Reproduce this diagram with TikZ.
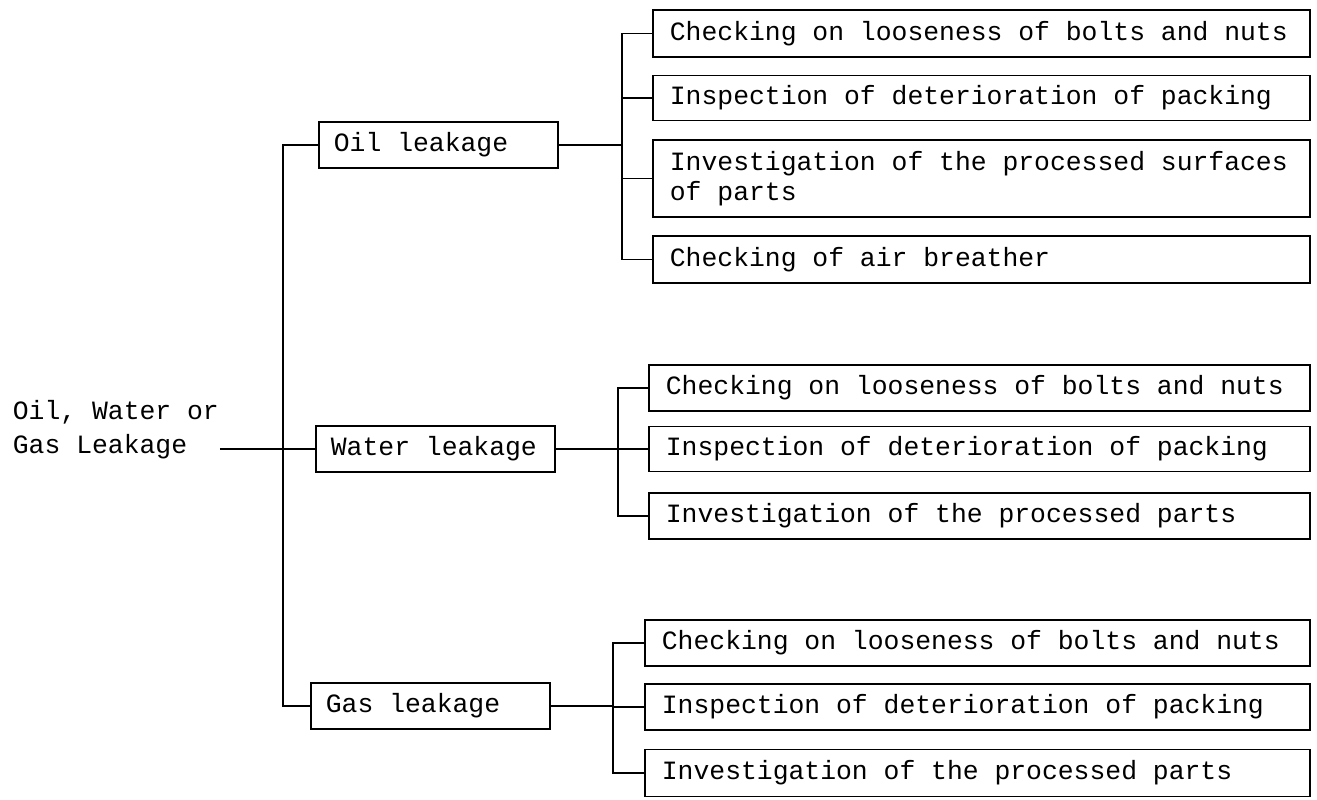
\documentclass[tikz,border=0pt]{standalone}
\usepackage{fontspec}
\setmonofont{Liberation Mono}
\begin{document}
\begin{tikzpicture}[x=1pt, y=1pt, line width=1.8pt,
  every node/.style={font=\ttfamily\fontsize{26.4}{30}\selectfont},
  box/.style={draw, rectangle, anchor=west, align=flush left, inner ysep=0pt},
  catbox/.style={box, inner xsep=15pt, text width=209pt, minimum height=46pt},
  leafbox/.style={box, inner xsep=17pt, text width=#1, minimum height=46pt},
]
\useasboundingbox (0,0) rectangle (1317,-800);

% root label
\node[anchor=west, align=flush left, inner sep=0pt,
      font=\ttfamily\fontsize{26.4}{34}\selectfont] (root) at (12,-430)
  {Oil, Water or\\Gas Leakage};

% leakage categories
\node[catbox] (oil)   at (318,-145) {Oil leakage};
\node[catbox] (water) at (315,-449) {Water leakage};
\node[catbox] (gas)   at (310,-706) {Gas leakage};

% oil leakage checks
\node[leafbox=623pt, minimum height=47pt] (o1) at (652,-33.5) {Checking on looseness of bolts and nuts};
\node[leafbox=623pt, minimum height=45pt] (o2) at (652,-98)   {Inspection of deterioration of packing};
\node[leafbox=623pt, minimum height=77pt] (o3) at (652,-178.5){Investigation of the processed surfaces\\of parts};
\node[leafbox=623pt, minimum height=47pt] (o4) at (652,-259.5){Checking of air breather};

% water leakage checks
\node[leafbox=627pt] (w1) at (648,-388) {Checking on looseness of bolts and nuts};
\node[leafbox=627pt, minimum height=45pt] (w2) at (648,-449) {Inspection of deterioration of packing};
\node[leafbox=627pt] (w3) at (648,-516) {Investigation of the processed parts};

% gas leakage checks
\node[leafbox=631pt] (g1) at (644,-643) {Checking on looseness of bolts and nuts};
\node[leafbox=631pt] (g2) at (644,-707) {Inspection of deterioration of packing};
\node[leafbox=631pt, minimum height=47pt] (g3) at (644,-773) {Investigation of the processed parts};

% trunk lines
\coordinate (trunk) at (283,0);
\coordinate (so) at (622,0);
\coordinate (sw) at (618,0);
\coordinate (sg) at (613,0);

% root to categories
\draw (root.east |- water.west) -- (water.west);
\draw (oil.west) -- (oil.west -| trunk) -- (gas.west -| trunk) -- (gas.west);

% oil branch
\draw (oil.east) -- (oil.east -| so);
\draw (o1.west) -- (o1.west -| so) -- (o4.west -| so) -- (o4.west);
\draw (o2.west) -- (o2.west -| so);
\draw (o3.west) -- (o3.west -| so);

% water branch
\draw (water.east) -- (water.east -| sw);
\draw (w1.west) -- (w1.west -| sw) -- (w3.west -| sw) -- (w3.west);
\draw (w2.west) -- (w2.west -| sw);

% gas branch
\draw (gas.east) -- (gas.east -| sg);
\draw (g1.west) -- (g1.west -| sg) -- (g3.west -| sg) -- (g3.west);
\draw (g2.west) -- (g2.west -| sg);
\end{tikzpicture}
\end{document}
